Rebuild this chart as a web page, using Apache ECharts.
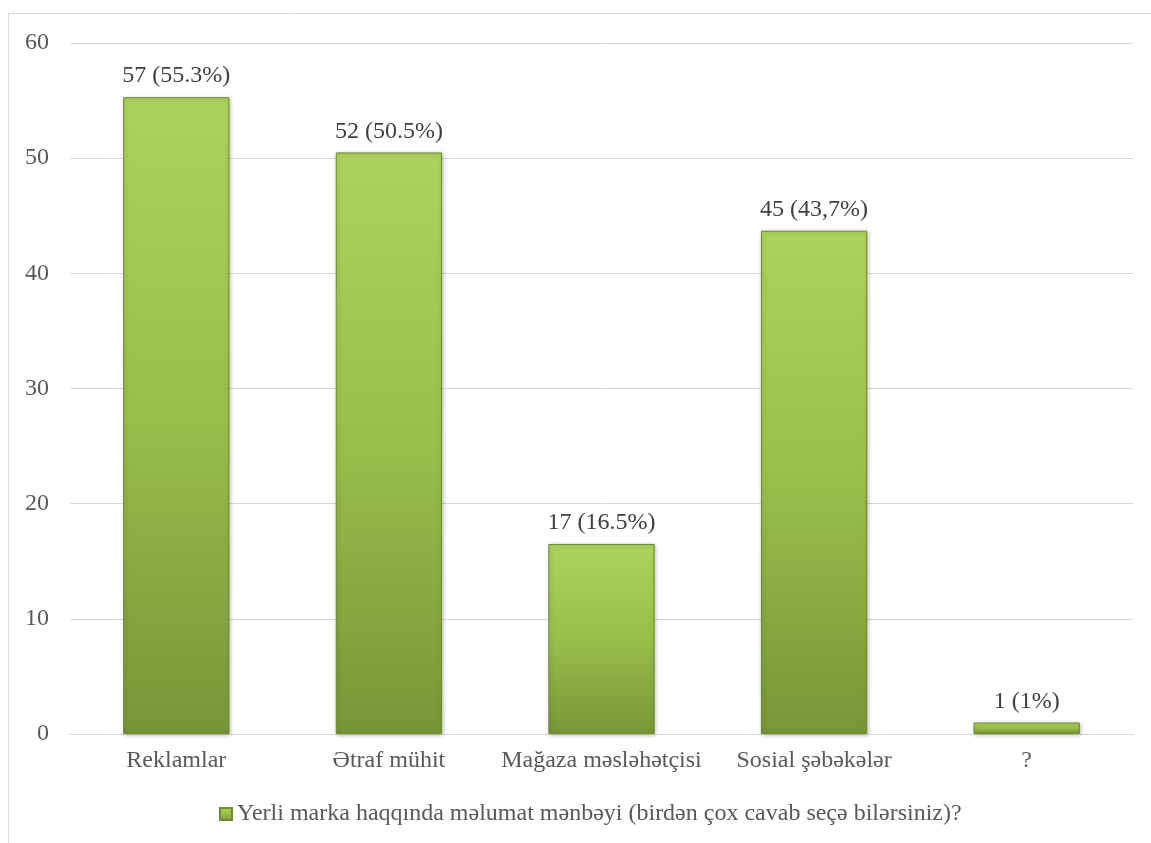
<!DOCTYPE html>
<html>
<head>
<meta charset="utf-8">
<script src="https://cdn.jsdelivr.net/npm/echarts@6/dist/echarts.min.js"></script>
<style>
html,body{margin:0;padding:0;background:#fff;}
#c{width:1151px;height:843px;}
</style>
</head>
<body>
<div id="c"></div>
<script>
const categories = ['Reklamlar', 'Ətraf mühit', 'Mağaza məsləhətçisi', 'Sosial şəbəkələr', '?'];
const values = [55.3, 50.5, 16.5, 43.7, 1];
const labels = ['57 (55.3%)', '52 (50.5%)', '17 (16.5%)', '45 (43,7%)', '1 (1%)'];
const yTicks = [0, 10, 20, 30, 40, 50, 60];
const seriesName = 'Yerli marka haqqında məlumat mənbəyi (birdən çox cavab seçə bilərsiniz)?';

const font = '"Liberation Serif", "Times New Roman", serif';
const chart = echarts.init(document.getElementById('c'), null, {renderer: 'canvas'});
const grad = new echarts.graphic.LinearGradient(0, 0, 0, 1, [
  {offset: 0, color: '#acd35c'},
  {offset: 0.5, color: '#98bf4a'},
  {offset: 1, color: '#789638'}
]);
chart.setOption({
  animation: false,
  graphic: [{
    type: 'rect',
    shape: {x: 8.5, y: 13.5, width: 1200, height: 900},
    style: {fill: 'none', stroke: '#d9d9d9', lineWidth: 1}
  }],
  grid: {left: 70, right: 18, top: 43, bottom: 109, containLabel: false},
  legend: {
    data: [seriesName],
    bottom: 12,
    left: 214,
    icon: 'rect',
    itemWidth: 12,
    itemHeight: 12,
    itemGap: 5,
    textStyle: {fontFamily: font, fontSize: 24, color: '#595959'}
  },
  xAxis: {
    type: 'category',
    data: categories,
    axisLine: {lineStyle: {color: '#d9d9d9', width: 1}},
    axisTick: {show: false},
    axisLabel: {fontFamily: font, fontSize: 24, color: '#595959', margin: 15, interval: 0}
  },
  yAxis: {
    type: 'value',
    min: 0, max: 60, interval: 10,
    axisLine: {show: false},
    axisTick: {show: false},
    splitLine: {lineStyle: {color: '#d9d9d9', width: 1}},
    axisLabel: {fontFamily: font, fontSize: 24, color: '#595959', margin: 21,
      formatter: v => yTicks.includes(v) ? String(v) : ''}
  },
  series: [{
    name: seriesName,
    type: 'bar',
    data: values,
    barWidth: '50%',
    itemStyle: {
      color: grad,
      borderColor: '#6e8c30',
      borderWidth: 1,
      shadowColor: 'rgba(0,0,0,0.25)',
      shadowBlur: 4,
      shadowOffsetX: 1,
      shadowOffsetY: 1
    },
    label: {
      show: true,
      position: 'top',
      distance: 9,
      fontFamily: font,
      fontSize: 24,
      color: '#404040',
      formatter: p => labels[p.dataIndex]
    }
  }]
});
</script>
</body>
</html>
